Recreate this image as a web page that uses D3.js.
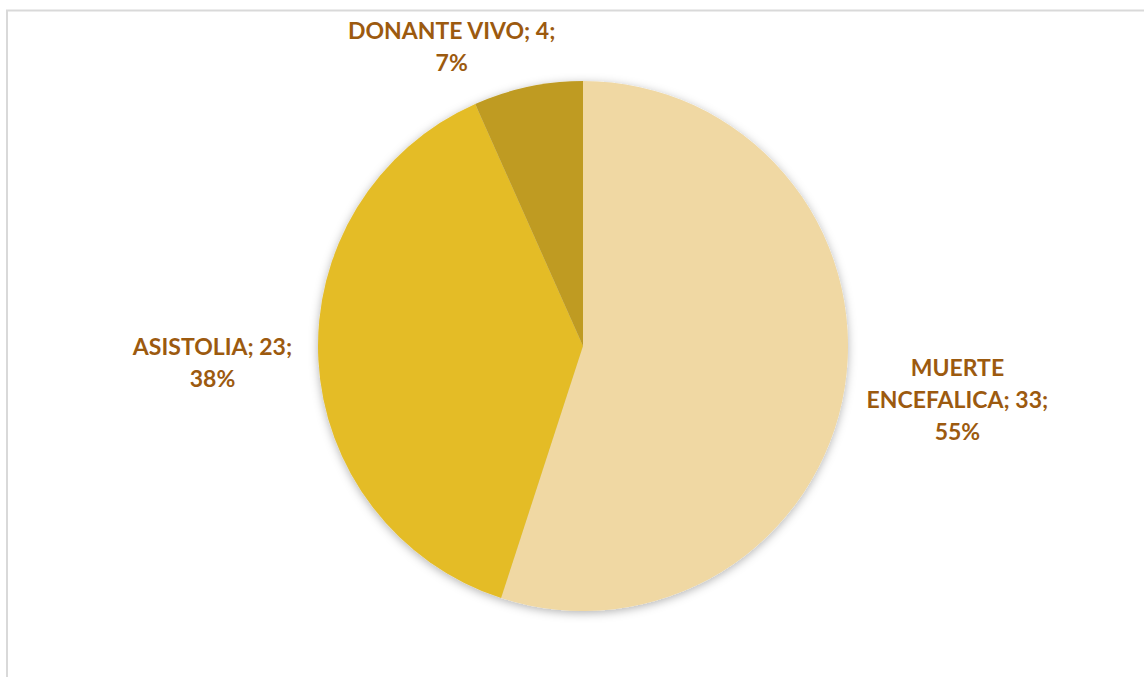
<!DOCTYPE html>
<html>
<head>
<meta charset="utf-8">
<script src="https://cdn.jsdelivr.net/npm/d3@7"></script>
<style>
  html, body { margin: 0; padding: 0; background: #ffffff; }
  svg { display: block; }
</style>
</head>
<body>
<svg id="chart" width="1144" height="677"></svg>
<script>
// Donor types and counts
const categories = ["MUERTE ENCEFALICA", "ASISTOLIA", "DONANTE VIVO"];
const counts = [33, 23, 4];
const percentLabels = ["55%", "38%", "7%"];
const labelLines = [
  ["MUERTE", "ENCEFALICA; 33;", "55%"],
  ["ASISTOLIA; 23;", "38%"],
  ["DONANTE VIVO; 4;", "7%"]
];
const sliceColors = ["#F0D8A3", "#E4BC28", "#BF9B22"];

const width = 1144, height = 677;
const cx = 583, cy = 346, radius = 265;
const labelRadius = 372;
// small per-label shifts for readability
const labelNudge = [[7, -4], [1, -3], [-54, 65]];

const svg = d3.select("#chart");

// chart frame (left and top edges visible)
svg.append("rect")
  .attr("x", 7).attr("y", 10.5)
  .attr("width", 1200).attr("height", 700)
  .attr("fill", "none")
  .attr("stroke", "#d9d9d9")
  .attr("stroke-width", 2);

const defs = svg.append("defs");
const f = defs.append("filter").attr("id", "pieShadow")
  .attr("x", "-20%").attr("y", "-20%").attr("width", "140%").attr("height", "140%");
f.append("feDropShadow")
  .attr("dx", 0).attr("dy", 2)
  .attr("stdDeviation", 5)
  .attr("flood-color", "#000")
  .attr("flood-opacity", 0.3);

const data = categories.map((c, i) => ({ name: c, value: counts[i], idx: i }));

const pie = d3.pie().sort(null).value(d => d.value);
const arcs = pie(data);
const arc = d3.arc().innerRadius(0).outerRadius(radius);

const g = svg.append("g").attr("transform", `translate(${cx},${cy})`);

g.append("g").attr("filter", "url(#pieShadow)")
  .selectAll("path")
  .data(arcs)
  .join("path")
  .attr("d", arc)
  .attr("fill", d => sliceColors[d.data.idx]);

const labelArc = d3.arc().innerRadius(labelRadius).outerRadius(labelRadius);
const lineH = 32;

arcs.forEach(a => {
  const i = a.data.idx;
  const [x, y] = labelArc.centroid(a);
  const lines = labelLines[i];
  const nx = x + labelNudge[i][0];
  const ny = y + labelNudge[i][1];
  const t = g.append("text")
    .attr("text-anchor", "middle")
    .attr("font-family", "Lato, 'Open Sans', sans-serif")
    .attr("font-weight", 700)
    .attr("font-size", 23)
    .attr("fill", "#9C5A0F");
  lines.forEach((ln, k) => {
    t.append("tspan")
      .attr("x", nx)
      .attr("y", ny - (lines.length - 1) * lineH / 2 + k * lineH)
      .attr("dy", "0.35em")
      .text(ln);
  });
});
</script>
</body>
</html>
